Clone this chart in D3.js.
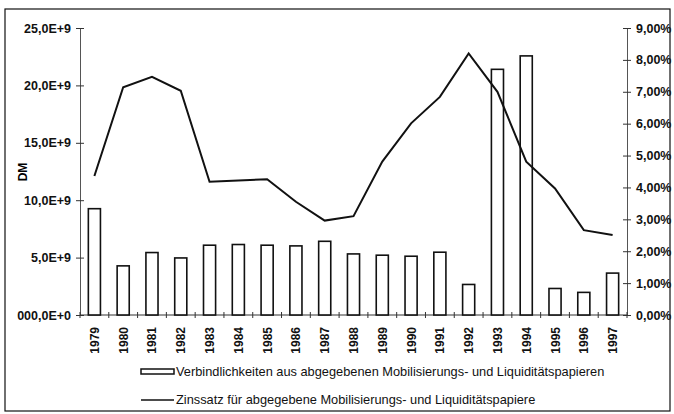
<!DOCTYPE html>
<html>
<head>
<meta charset="utf-8">
<script src="https://cdn.jsdelivr.net/npm/d3@7"></script>
<style>
  body { margin: 0; background: #fff; }
  svg { display: block; font-family: "Liberation Sans", Arial, sans-serif; }
</style>
</head>
<body>
<svg id="chart" width="674" height="414"></svg>
<script>
const years = ["1979","1980","1981","1982","1983","1984","1985","1986","1987","1988",
  "1989","1990","1991","1992","1993","1994","1995","1996","1997"];
// Verbindlichkeiten (DM)
const volume = [9.26e9, 4.28e9, 5.44e9, 4.97e9, 6.08e9, 6.14e9, 6.08e9, 6.02e9, 6.42e9, 5.32e9,
  5.21e9, 5.12e9, 5.47e9, 2.66e9, 21.4e9, 22.57e9, 2.31e9, 1.97e9, 3.65e9];
// Zinssatz (%)
const rate = [4.36, 7.14, 7.47, 7.03, 4.18, 4.22, 4.26, 3.55, 2.96, 3.10,
  4.81, 6.01, 6.84, 8.20, 7.0, 4.81, 3.97, 2.66, 2.51];
const leftTicks = [0, 5e9, 10e9, 15e9, 20e9, 25e9];
const leftTickLabels = ["000,0E+0", "5,0E+9", "10,0E+9", "15,0E+9", "20,0E+9", "25,0E+9"];
const rightTicks = [0, 1, 2, 3, 4, 5, 6, 7, 8, 9];
const rightTickLabels = ["0,00%", "1,00%", "2,00%", "3,00%", "4,00%", "5,00%", "6,00%", "7,00%", "8,00%", "9,00%"];
const legendLabels = [
  "Verbindlichkeiten aus abgegebenen Mobilisierungs- und Liquiditätspapieren",
  "Zinssatz für abgegebene Mobilisierungs- und Liquiditätspapiere"
];

const svg = d3.select("#chart");
const plotLeft = 80, plotRight = 627, plotTop = 28, plotBottom = 315;

// outer frame
svg.append("rect")
  .attr("x", 5).attr("y", 9).attr("width", 665).attr("height", 402)
  .attr("fill", "none").attr("stroke", "#111").attr("stroke-width", 1.2);

const x = d3.scaleBand().domain(years).range([plotLeft, plotRight])
  .paddingInner(0.58).paddingOuter(0.29);
const yL = d3.scaleLinear().domain([0, 25e9]).range([plotBottom, plotTop]);
const yR = d3.scaleLinear().domain([0, 9]).range([plotBottom, plotTop]);
const step = x.step();
const x0 = x(years[0]) - x.paddingOuter() * step;

// left axis
const axL = svg.append("g").attr("transform", `translate(${plotLeft},0)`)
  .call(d3.axisLeft(yL).tickValues(leftTicks)
    .tickFormat((d, i) => leftTickLabels[i]).tickSizeInner(4).tickSizeOuter(0));
axL.selectAll(".tick line").attr("x2", 4).attr("x1", -4).attr("stroke", "#333");
axL.select(".domain").attr("stroke", "#555");
axL.selectAll(".tick text").attr("x", -9).attr("font-size", 12.5).attr("font-weight", "bold")
  .attr("font-family", "Liberation Sans, Arial, sans-serif").attr("fill", "#111");

// right axis
const axR = svg.append("g").attr("transform", `translate(${plotRight},0)`)
  .call(d3.axisRight(yR).tickValues(rightTicks)
    .tickFormat((d, i) => rightTickLabels[i]).tickSizeInner(4).tickSizeOuter(0));
axR.selectAll(".tick line").attr("x1", -4).attr("x2", 4).attr("stroke", "#333");
axR.select(".domain").attr("stroke", "#555");
axR.selectAll(".tick text").attr("x", 9).attr("font-size", 12.5).attr("font-weight", "bold")
  .attr("font-family", "Liberation Sans, Arial, sans-serif").attr("fill", "#111");

// x axis
const axX = svg.append("g").attr("transform", `translate(0,${plotBottom})`);
axX.append("line").attr("x1", plotLeft).attr("x2", plotRight).attr("stroke", "#333");
axX.selectAll("line.tk").data(d3.range(years.length + 1)).join("line")
  .attr("class", "tk")
  .attr("x1", i => x0 + i * step).attr("x2", i => x0 + i * step)
  .attr("y1", -3).attr("y2", 3).attr("stroke", "#333");
axX.selectAll("text").data(years).join("text")
  .attr("transform", d => `translate(${x(d) + x.bandwidth() / 2 + 4.5},12) rotate(-90)`)
  .attr("text-anchor", "end")
  .attr("font-size", 12).attr("font-weight", "bold").attr("fill", "#111")
  .text(d => d);

// DM label
svg.append("text")
  .attr("transform", "translate(27,172) rotate(-90)")
  .attr("text-anchor", "middle").attr("font-size", 12).attr("font-weight", "bold")
  .text("DM");

// bars
svg.append("g").selectAll("rect").data(years).join("rect")
  .attr("x", d => x(d))
  .attr("y", (d, i) => yL(volume[i]))
  .attr("width", x.bandwidth())
  .attr("height", (d, i) => plotBottom - yL(volume[i]))
  .attr("fill", "#fff").attr("stroke", "#111").attr("stroke-width", 1.6);

// line
const line = d3.line()
  .x((d, i) => x(years[i]) + x.bandwidth() / 2)
  .y(d => yR(d));
svg.append("path").datum(rate)
  .attr("d", line).attr("fill", "none")
  .attr("stroke", "#111").attr("stroke-width", 2).attr("stroke-linejoin", "miter");

// legend
const lg = svg.append("g");
lg.append("rect").attr("x", 141).attr("y", 369).attr("width", 33).attr("height", 5)
  .attr("fill", "#fff").attr("stroke", "#111").attr("stroke-width", 1.5);
lg.append("text").attr("x", 176).attr("y", 376).attr("font-size", 12.8).attr("fill", "#111")
  .text(legendLabels[0]);
lg.append("line").attr("x1", 141).attr("x2", 174).attr("y1", 400).attr("y2", 400)
  .attr("stroke", "#111").attr("stroke-width", 1.5);
lg.append("text").attr("x", 176).attr("y", 404).attr("font-size", 12.8).attr("fill", "#111")
  .text(legendLabels[1]);
</script>
</body>
</html>
